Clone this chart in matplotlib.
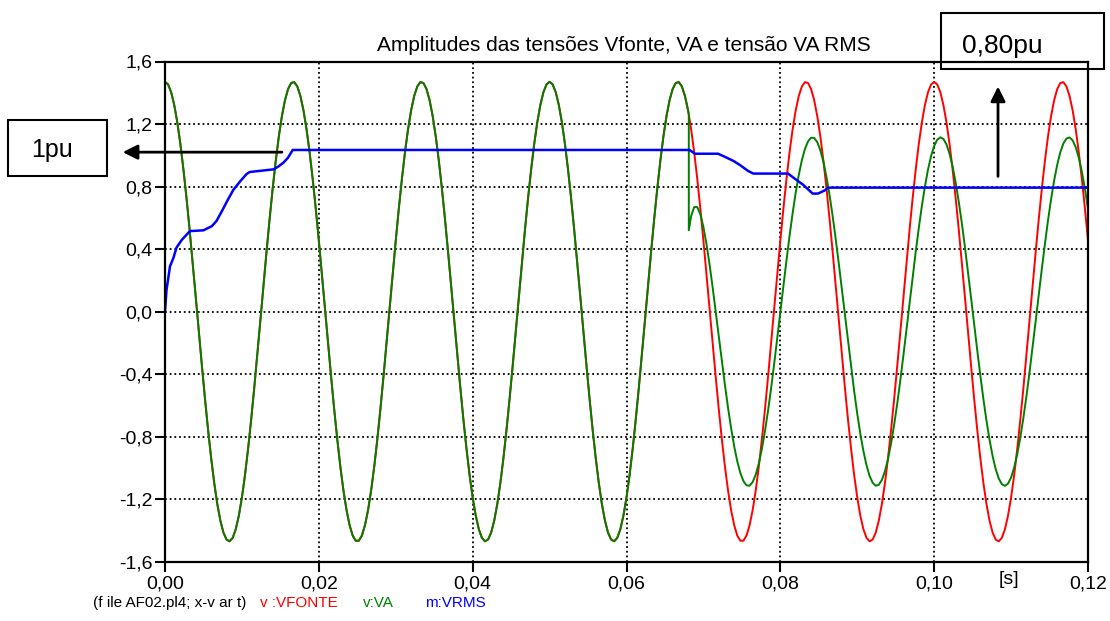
import numpy as np
import matplotlib
matplotlib.use("Agg")
import matplotlib.pyplot as plt
from matplotlib.patches import Rectangle
from matplotlib.ticker import FuncFormatter

plt.rcParams['font.family'] = ['Liberation Sans', 'DejaVu Sans']

# source and bus A voltages (pu), 60 Hz system
freq = 60.0
v_source_peak = 1.47
v_sag_peak = 1.115       # bus A peak after the fault
sag_start = 0.0681       # s
sag_lag = 0.00084        # s, phase lag of bus A during the sag
v_at_switch = 0.52       # bus A value right after the fault
transient_tau = 0.0012   # s
t_end = 0.12
dt = 0.0004

# RMS meter output (pu)
rms_t = [0.0, 0.0002, 0.0004, 0.00065, 0.0011, 0.0015, 0.0022, 0.00325, 0.005,
         0.0061, 0.0067, 0.0074, 0.0082, 0.0089, 0.0098, 0.0106, 0.011, 0.0141,
         0.0147, 0.0154, 0.016, 0.0166, 0.0682, 0.0689, 0.0719, 0.0728, 0.0739,
         0.0748, 0.0758, 0.0765, 0.081, 0.0817, 0.083, 0.0842, 0.0849, 0.0858,
         0.0862, 0.12]
rms_v = [0.0, 0.14, 0.205, 0.29, 0.344, 0.41, 0.46, 0.515, 0.52,
         0.547, 0.58, 0.643, 0.718, 0.78, 0.835, 0.88, 0.893, 0.91,
         0.927, 0.953, 0.985, 1.034, 1.034, 1.01, 1.01, 0.99, 0.964,
         0.936, 0.90, 0.883, 0.883, 0.857, 0.81, 0.755, 0.755, 0.776,
         0.793, 0.793]

y_ticks = [-1.6, -1.2, -0.8, -0.4, 0.0, 0.4, 0.8, 1.2, 1.6]
x_ticks = [0.0, 0.02, 0.04, 0.06, 0.08, 0.10, 0.12]

title = "Amplitudes das tensões Vfonte, VA e tensão VA RMS"
footer = "(f ile AF02.pl4; x-v ar t)"
legend_items = [("v :VFONTE", "#ff0000"), ("v:VA", "#008000"), ("m:VRMS", "#0000ff")]

# build waveforms
t = np.arange(0, t_end + dt / 2, dt)
t = np.sort(np.concatenate([t, [sag_start, sag_start]]))
w = 2 * np.pi * freq
vfonte = v_source_peak * np.cos(w * t)
va = vfonte.copy()
after = np.zeros_like(t, dtype=bool)
idx_after = np.where(t >= sag_start)[0]
after[idx_after[1:]] = True
sag_wave = v_sag_peak * np.cos(w * (t - sag_lag))
offset0 = v_at_switch - v_sag_peak * np.cos(w * (sag_start - sag_lag))
va[after] = sag_wave[after] + offset0 * np.exp(-(t[after] - sag_start) / transient_tau)

W, H = 1110, 621
fig = plt.figure(figsize=(W / 100, H / 100), dpi=100)
fx = lambda px: px / W
fy = lambda py: 1 - py / H

ax = fig.add_axes([fx(165), fy(561.7), fx(1088) - fx(165), fy(61.5) - fy(561.7)])
ax.plot(t, vfonte, color="#ff0000", lw=1.4)
ax.plot(t, va, color="#008000", lw=1.4)
ax.plot(rms_t, rms_v, color="#0000ff", lw=1.8)

ax.set_xlim(0, t_end)
ax.set_ylim(-1.6, 1.6)
ax.set_xticks(x_ticks)
ax.set_yticks(y_ticks)
comma = lambda fmt: FuncFormatter(lambda v, p: (fmt % v).replace('.', ','))
ax.xaxis.set_major_formatter(comma('%.2f'))
ax.yaxis.set_major_formatter(comma('%.1f'))
ax.tick_params(direction='out', length=7, width=1.5, labelsize=14, colors='black')
ax.tick_params(axis='x', pad=3)
ax.tick_params(axis='y', pad=2)
for s in ax.spines.values():
    s.set_linewidth(1.6)
ax.grid(True, color='black', linestyle=(0, (1, 1.6)), linewidth=1.3)

# titles and footer
fig.text(fx(624), fy(50.7), title, ha='center', va='baseline', fontsize=15)
fig.text(fx(1009), fy(580), "[s]", ha='center', va='center', fontsize=14)
fig.text(fx(93), fy(603), footer, ha='left', va='center', fontsize=11)
for (label, color), x0 in zip(legend_items, [260, 363, 425]):
    fig.text(fx(x0), fy(603), label, ha='left', va='center', fontsize=11, color=color)

# boxed pu labels
fig.patches.append(Rectangle((fx(8), fy(176)), fx(107) - fx(8), fy(120) - fy(176),
                             transform=fig.transFigure, fill=False, ec='black', lw=1.5))
fig.text(fx(52), fy(156.7), "1pu", ha='center', va='baseline', fontsize=18)
fig.patches.append(Rectangle((fx(941), fy(69)), fx(1104) - fx(941), fy(13) - fy(69),
                             transform=fig.transFigure, fill=False, ec='black', lw=1.5,
                             fc='white'))
fig.text(fx(1002), fy(53.3), "0,80pu", ha='center', va='baseline', fontsize=19)

arrow = dict(arrowstyle='-|>', mutation_scale=22, lw=2, color='black', shrinkA=0, shrinkB=0)
ax.annotate("", xy=(-0.0055, 1.02), xytext=(0.0152, 1.02), arrowprops=arrow,
            annotation_clip=False)
ax.annotate("", xy=(0.1083, 1.44), xytext=(0.1083, 0.865), arrowprops=arrow,
            annotation_clip=False)

fig.savefig("out.png", dpi=100)
